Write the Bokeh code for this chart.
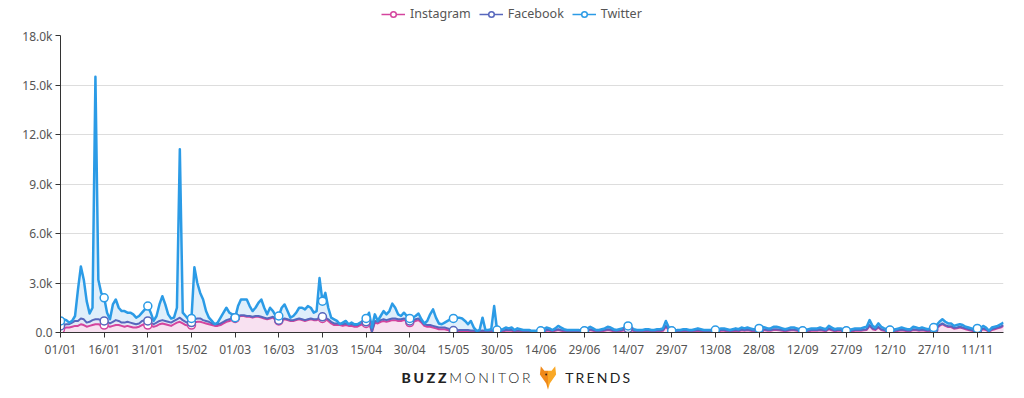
import pandas as pd
from bokeh.plotting import figure
from bokeh.models import ColumnDataSource, FixedTicker, Legend, LegendItem, Div, Range1d
from bokeh.layouts import column
from bokeh.embed import file_html
from bokeh.resources import INLINE

series_names = ["Instagram", "Facebook", "Twitter"]
dates = [d.strftime("%d/%m") for d in pd.date_range("2016-01-01", "2016-11-20")]

twitter = [
    700, 800, 750, 600, 700, 1000, 2600, 4000, 3200, 1900,
    1150, 1500, 15500, 3200, 2400, 2100, 1200, 800, 1700, 2000,
    1500, 1300, 1300, 1200, 1200, 1100, 900, 1000, 1200, 1400,
    1600, 1200, 700, 1000, 1700, 2200, 1700, 1100, 850, 900,
    1500, 11100, 1200, 1000, 800, 850, 3950, 3000, 2400, 2000,
    1300, 900, 700, 500, 600, 900, 1200, 1500, 1200, 1100,
    900, 1600, 2000, 2000, 2000, 1600, 1300, 1500, 1800, 2000,
    1500, 1100, 1500, 1300, 1000, 1000, 1500, 1700, 1300, 900,
    1000, 1200, 1500, 1500, 1400, 1600, 1500, 1200, 1300, 3300,
    1900, 2400, 1500, 900, 800, 700, 500, 600, 700, 500,
    600, 500, 500, 600, 700, 850, 1200, 300, 1100, 700,
    1000, 1300, 1100, 1300, 1750, 1500, 1100, 1000, 1200, 1000,
    850, 900, 1000, 1150, 800, 550, 700, 1100, 1400, 900,
    550, 500, 600, 700, 800, 850, 900, 900, 850, 700,
    500, 700, 300, 100, 150, 900, 150, 150, 200, 1600,
    150, 150, 200, 300, 250, 300, 150, 250, 200, 150,
    150, 150, 100, 100, 80, 100, 200, 300, 250, 150,
    250, 400, 300, 200, 150, 150, 150, 150, 150, 100,
    100, 250, 350, 250, 150, 150, 200, 250, 350, 300,
    200, 150, 200, 250, 300, 400, 300, 200, 150, 150,
    150, 200, 200, 150, 150, 200, 200, 250, 700, 300,
    100, 100, 150, 150, 200, 200, 150, 150, 200, 250,
    200, 150, 150, 150, 150, 150, 200, 250, 250, 200,
    150, 200, 250, 200, 300, 250, 300, 250, 200, 200,
    250, 350, 300, 250, 250, 350, 350, 300, 250, 200,
    250, 300, 300, 250, 200, 100, 150, 200, 250, 250,
    250, 300, 250, 200, 400, 300, 200, 250, 250, 200,
    100, 150, 200, 250, 250, 250, 300, 350, 750, 400,
    300, 550, 350, 250, 200, 150, 150, 200, 250, 300,
    250, 200, 200, 350, 300, 250, 300, 250, 200, 250,
    300, 450, 650, 800, 650, 550, 550, 400, 450, 500,
    450, 350, 300, 250, 200, 250, 250, 400, 300, 100,
    300, 350, 400, 500, 600,
]

facebook = [
    400, 450, 500, 500, 600, 700, 700, 850, 800, 600,
    650, 750, 800, 800, 750, 700, 650, 550, 650, 750,
    700, 600, 600, 650, 600, 550, 500, 550, 700, 750,
    700, 600, 500, 600, 700, 750, 700, 650, 600, 700,
    800, 900, 750, 650, 550, 600, 800, 850, 850, 750,
    700, 650, 550, 500, 500, 550, 650, 750, 800, 850,
    900, 1000, 1050, 1050, 1000, 1000, 950, 1000, 1000, 950,
    900, 850, 900, 950, 800, 750, 800, 850, 800, 750,
    750, 800, 850, 800, 750, 800, 850, 800, 800, 900,
    950, 900, 800, 650, 550, 550, 550, 500, 550, 500,
    500, 450, 450, 550, 600, 650, 700, 50, 700, 650,
    750, 800, 750, 800, 850, 850, 800, 800, 850, 800,
    700, 750, 800, 850, 700, 500, 450, 450, 400, 350,
    300, 300, 300, 250, 200, 120, 120, 150, 150, 150,
    150, 120, 120, 80, 100, 120, 100, 100, 120, 120,
    100, 100, 120, 150, 150, 150, 100, 120, 120, 100,
    100, 100, 80, 80, 60, 60, 100, 150, 150, 100,
    150, 200, 150, 120, 100, 100, 100, 100, 100, 80,
    80, 150, 200, 150, 100, 100, 120, 150, 200, 180,
    120, 100, 120, 150, 200, 250, 200, 120, 100, 100,
    100, 120, 120, 100, 100, 120, 120, 150, 400, 200,
    80, 80, 100, 100, 120, 120, 100, 100, 120, 150,
    120, 100, 100, 100, 100, 100, 120, 150, 150, 120,
    100, 120, 150, 120, 180, 150, 180, 150, 120, 120,
    150, 200, 180, 150, 150, 200, 200, 180, 150, 120,
    150, 180, 180, 150, 120, 80, 100, 120, 150, 150,
    150, 180, 150, 120, 250, 180, 120, 150, 150, 120,
    80, 100, 120, 150, 150, 150, 180, 200, 450, 250,
    200, 350, 200, 150, 120, 120, 100, 120, 150, 180,
    150, 120, 120, 200, 180, 150, 180, 150, 120, 150,
    200, 300, 450, 550, 450, 380, 380, 280, 300, 350,
    300, 250, 200, 150, 120, 120, 150, 250, 200, 80,
    200, 250, 300, 350, 450,
]

instagram = [
    200, 250, 300, 300, 350, 400, 400, 500, 450, 350,
    400, 450, 500, 500, 450, 450, 400, 350, 400, 450,
    450, 400, 350, 400, 350, 300, 300, 350, 450, 500,
    450, 400, 350, 400, 500, 550, 500, 450, 400, 500,
    600, 650, 550, 450, 400, 450, 600, 650, 650, 600,
    550, 500, 450, 400, 400, 450, 550, 650, 700, 750,
    850, 950, 1000, 1000, 950, 950, 900, 950, 950, 900,
    850, 800, 850, 900, 750, 700, 750, 800, 750, 700,
    700, 750, 800, 750, 700, 750, 800, 750, 750, 800,
    850, 800, 700, 550, 450, 450, 450, 400, 450, 400,
    400, 350, 350, 450, 500, 550, 600, 30, 600, 550,
    650, 700, 650, 700, 750, 750, 700, 700, 750, 700,
    600, 650, 700, 750, 600, 400, 350, 350, 300, 250,
    200, 200, 200, 150, 120, 70, 70, 90, 90, 90,
    90, 70, 70, 50, 60, 70, 60, 60, 70, 70,
    60, 60, 80, 100, 100, 100, 60, 80, 80, 60,
    60, 60, 50, 50, 40, 40, 60, 100, 100, 60,
    100, 150, 100, 80, 60, 60, 60, 60, 60, 50,
    50, 100, 150, 100, 60, 60, 80, 100, 150, 120,
    80, 60, 80, 100, 150, 200, 150, 80, 60, 60,
    60, 80, 80, 60, 60, 80, 80, 100, 350, 150,
    50, 50, 60, 60, 80, 80, 60, 60, 80, 100,
    80, 60, 60, 60, 60, 60, 80, 100, 100, 80,
    60, 80, 100, 80, 130, 100, 130, 100, 80, 80,
    100, 150, 130, 100, 100, 150, 150, 130, 100, 80,
    100, 130, 130, 100, 80, 50, 60, 80, 100, 100,
    100, 130, 100, 80, 200, 130, 80, 100, 100, 80,
    50, 60, 80, 100, 100, 100, 130, 150, 400, 200,
    150, 300, 150, 100, 80, 80, 60, 80, 100, 130,
    100, 80, 80, 150, 130, 100, 130, 100, 80, 100,
    150, 250, 400, 500, 400, 330, 330, 230, 250, 300,
    250, 200, 150, 100, 80, 80, 100, 200, 150, 50,
    150, 200, 250, 300, 400,
]

x_tick_labels = ["01/01", "16/01", "31/01", "15/02", "01/03", "16/03", "31/03",
                 "15/04", "30/04", "15/05", "30/05", "14/06", "29/06", "14/07",
                 "29/07", "13/08", "28/08", "12/09", "27/09", "12/10", "27/10", "11/11"]
y_ticks = [0, 3000, 6000, 9000, 12000, 15000, 18000]
y_tick_labels = ["0.0", "3.0k", "6.0k", "9.0k", "12.0k", "15.0k", "18.0k"]

colors = {"Instagram": "#d4449e", "Facebook": "#5767bd", "Twitter": "#2b9be6"}
fills = {"Instagram": "#f8e1f1", "Facebook": "#e6e4f3", "Twitter": "#dfeffb"}
widths = {"Instagram": 2, "Facebook": 2, "Twitter": 2.5}

n = min(len(dates), len(twitter), len(facebook), len(instagram))
xs = list(range(n))
src = ColumnDataSource(dict(x=xs, date=dates[:n], Instagram=instagram[:n],
                            Facebook=facebook[:n], Twitter=twitter[:n]))
tick_pos = [dates.index(l) for l in x_tick_labels]
msrc = ColumnDataSource(dict(x=tick_pos,
                             Instagram=[instagram[i] for i in tick_pos],
                             Facebook=[facebook[i] for i in tick_pos],
                             Twitter=[twitter[i] for i in tick_pos]))

# ---- legend strip (separate small figure so the legend is not clipped) ----
lf = figure(width=1016, height=27, output_backend="svg", toolbar_location=None,
            x_range=Range1d(0, 1), y_range=Range1d(0, 1),
            min_border_left=0, min_border_right=0, min_border_top=0, min_border_bottom=0)
lf.axis.visible = False
lf.grid.visible = False
lf.outline_line_color = None
lf.border_fill_color = "white"
dummy = ColumnDataSource(dict(x=[-5, -4], y=[-5, -5]))
leg_items = []
for name in series_names:
    r1 = lf.line(x="x", y="y", source=dummy, line_color=colors[name], line_width=1.5)
    r2 = lf.scatter(x="x", y="y", source=dummy, marker="circle", size=11,
                    fill_color="white", line_color=colors[name], line_width=1.5)
    leg_items.append(LegendItem(label=name, renderers=[r1, r2]))
legend = Legend(items=leg_items, orientation="horizontal", location=(321, 5),
                border_line_alpha=0, background_fill_alpha=0, padding=0, margin=0,
                spacing=8, glyph_width=24, glyph_height=14, label_height=14,
                label_standoff=5, label_text_font_size="12.5px", label_text_color="#555555",
                label_text_font="Noto Sans")
lf.add_layout(legend)

# ---- main chart ----
p = figure(width=1016, height=334, output_backend="svg", toolbar_location=None,
           x_range=Range1d(0, n - 1), y_range=Range1d(0, 18000),
           min_border_left=60, min_border_right=13, min_border_top=8, min_border_bottom=29)
p.outline_line_color = None
p.background_fill_color = "white"
p.border_fill_color = "white"

p.varea(x="x", y1=0, y2="Twitter", source=src, fill_color=fills["Twitter"], fill_alpha=1)
p.varea(x="x", y1=0, y2="Facebook", source=src, fill_color=fills["Facebook"], fill_alpha=0.6)
p.varea(x="x", y1=0, y2="Instagram", source=src, fill_color=fills["Instagram"], fill_alpha=1)

for name in series_names:
    p.line(x="x", y=name, source=src, line_color=colors[name], line_width=widths[name],
           line_join="round")
for name in series_names:
    p.scatter(x="x", y=name, source=msrc, marker="circle", size=8,
              fill_color="white", line_color=colors[name], line_width=1.5)

p.xgrid.visible = False
p.ygrid.grid_line_color = "#dddddd"
p.ygrid.grid_line_width = 1
for ax in (p.xaxis[0], p.yaxis[0]):
    ax.axis_line_color = "#333333"
    ax.major_tick_line_color = "#333333"
    ax.major_tick_in = 0
    ax.major_tick_out = 5
    ax.minor_tick_line_color = None
    ax.major_label_text_font = "Noto Sans"
    ax.major_label_text_font_size = "12px"
    ax.major_label_text_color = "#555555"
    ax.major_label_standoff = 3
p.xaxis.ticker = FixedTicker(ticks=tick_pos)
p.xaxis.major_label_overrides = dict(zip(tick_pos, x_tick_labels))
p.yaxis.ticker = FixedTicker(ticks=y_ticks)
p.yaxis.major_label_overrides = dict(zip(y_ticks, y_tick_labels))

logo_html = """
<div style="width:1024px;height:24px;display:flex;align-items:center;justify-content:center;
font-family:Lato, 'Noto Sans', sans-serif;font-size:14px;color:#222;">
<span style="letter-spacing:2.7px;"><span style="font-weight:900;">BUZZ</span><span style="font-weight:300;">MONITOR</span></span>
<svg width="18" height="28" viewBox="0 0 20 28" style="margin:0 8px 0 6px;">
<polygon points="2,1 6,6 10,6 10,27 8,20 1,10" fill="#f0891a"/>
<polygon points="18,1 14,6 10,6 10,27 12,20 19,10" fill="#f9a826"/>
<circle cx="8" cy="10" r="1.1" fill="#3a2a1a"/>
</svg>
<span style="letter-spacing:2.2px;font-weight:400;">TRENDS</span>
</div>
"""
logo = Div(text=logo_html, width=1016, height=30)

layout = column(lf, p, logo, spacing=0)
open("out.html", "w").write(file_html(layout, INLINE))
